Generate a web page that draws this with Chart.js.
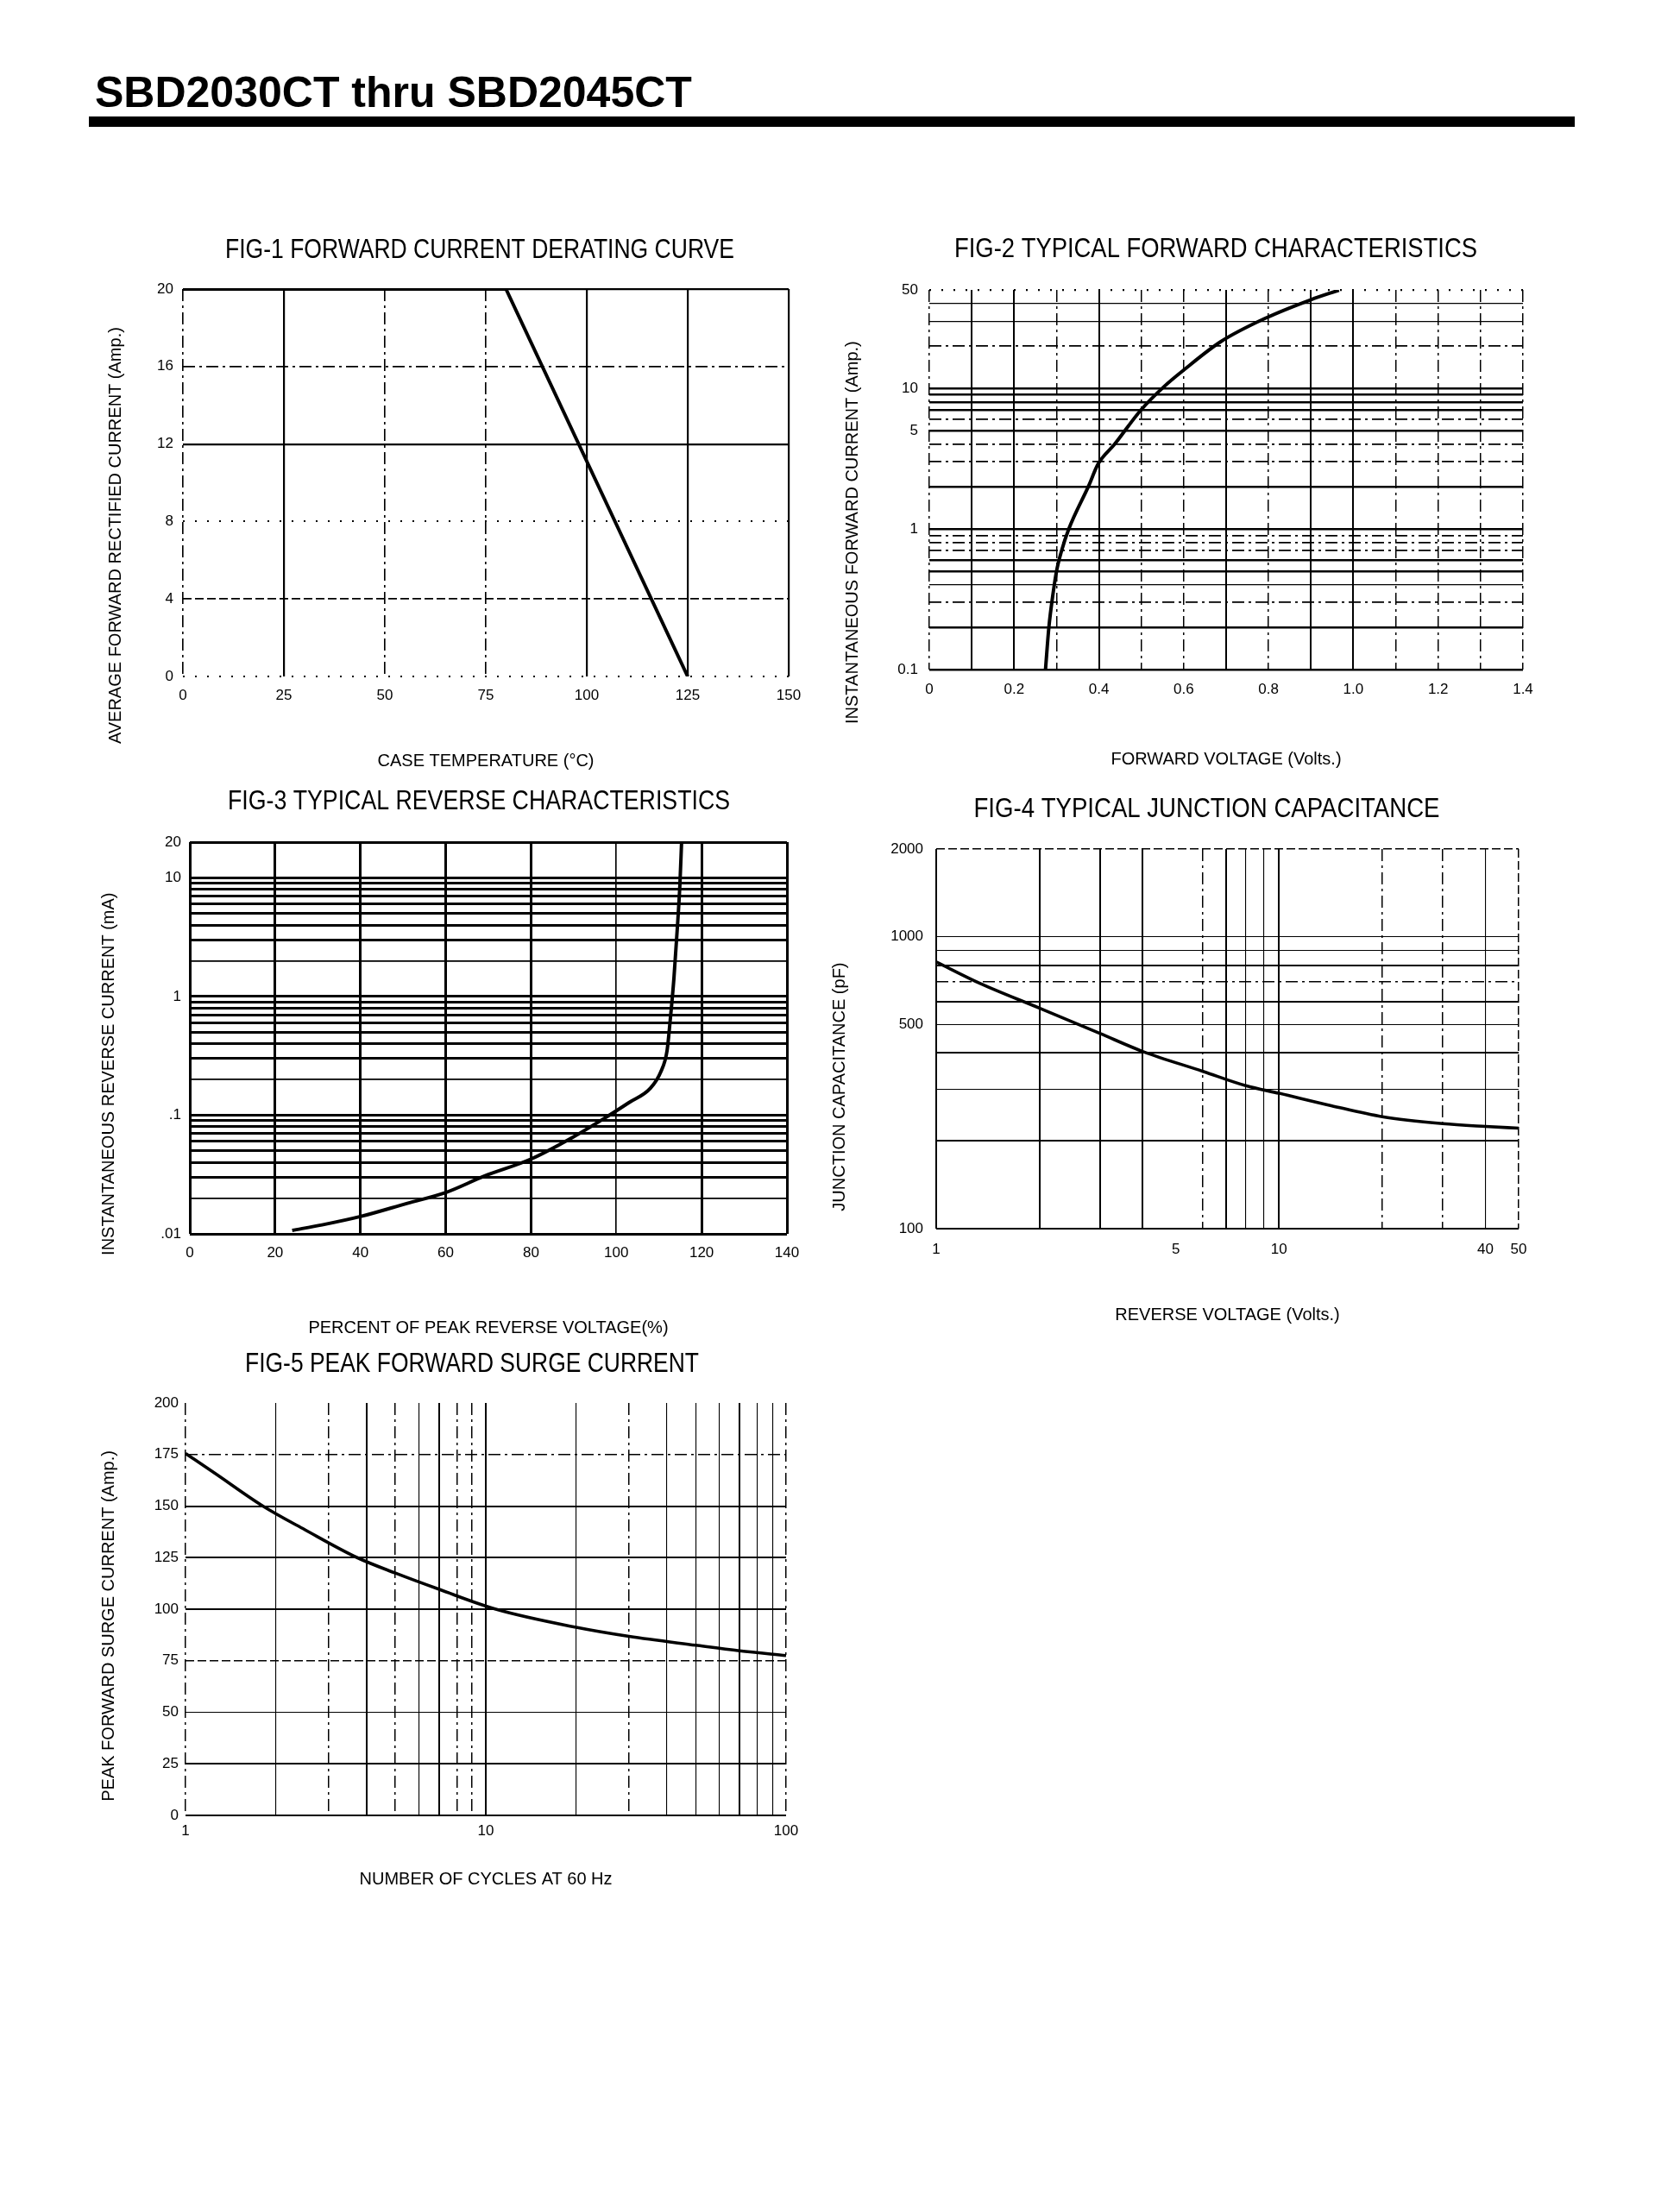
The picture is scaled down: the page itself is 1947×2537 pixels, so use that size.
<!DOCTYPE html>
<html lang="en">
<head>
<meta charset="UTF-8">
<title>SBD2030CT thru SBD2045CT</title>
<script src="https://cdn.jsdelivr.net/npm/chart.js"></script>
<style>
  body { margin: 0; width: 1947px; height: 2537px; background: #fff; position: relative; font-family: 'Liberation Sans', Arial, sans-serif; }
  #head { position: absolute; left: 110px; top: 82px; font-size: 50px; font-weight: bold; line-height: 50px; color: #000; white-space: nowrap; }
  #rule { position: absolute; left: 103px; top: 135px; width: 1722px; height: 12px; background: #000; }
  canvas { position: absolute; }
</style>
</head>
<body>
<div id="head">SBD2030CT thru SBD2045CT</div>
<div id="rule"></div>
<canvas id="fig1"></canvas>
<canvas id="fig2"></canvas>
<canvas id="fig3"></canvas>
<canvas id="fig4"></canvas>
<canvas id="fig5"></canvas>
<script>
// ---- FIG-1 derating
const fig1Temp    = [0, 80, 125];
const fig1Current = [20, 20, 0];
const fig1XGrid   = [0, 25, 50, 75, 100, 125, 150];
const fig1XLabels = ['0', '25', '50', '75', '100', '125', '150'];
const fig1YGrid   = [0, 4, 8, 12, 16, 20];
const fig1YLabels = ['0', '4', '8', '12', '16', '20'];

// ---- FIG-2 forward characteristics
const fig2Voltage = [0.274, 0.282, 0.292, 0.300, 0.312, 0.329, 0.376, 0.398, 0.437, 0.499, 0.554, 0.599, 0.688, 0.794, 0.899, 0.966];
const fig2Current = [0.1, 0.2, 0.35, 0.5, 0.7, 1.0, 2.03, 2.89, 4.0, 7.0, 10.3, 13.4, 21.5, 31.6, 42.5, 49.8];
const fig2XGrid   = [0, 0.1, 0.2, 0.3, 0.4, 0.5, 0.6, 0.7, 0.8, 0.9, 1.0, 1.1, 1.2, 1.3, 1.4];
const fig2XLabels = ['0', '', '0.2', '', '0.4', '', '0.6', '', '0.8', '', '1.0', '', '1.2', '', '1.4'];
const fig2YGrid   = [0.1, 0.2, 0.3, 0.4, 0.5, 0.6, 0.7, 0.8, 0.9, 1, 2, 3, 4, 5, 6, 7, 8, 9, 10, 20, 30, 40, 50];
const fig2YLabels = ['0.1', '', '', '', '', '', '', '', '', '1', '', '', '', '5', '', '', '', '', '10', '', '', '', '50'];

// ---- FIG-3 reverse characteristics
const fig3Percent = [24, 31, 40, 51, 60, 69, 80, 90, 97.7, 103, 108, 110.4, 111.9, 112.6, 113.5, 114.3, 114.9, 115.3];
const fig3Current = [0.0107, 0.0119, 0.014, 0.0181, 0.0223, 0.0306, 0.0427, 0.0658, 0.0966, 0.128, 0.169, 0.231, 0.351, 0.613, 1.42, 3.77, 8.7, 20];
const fig3XGrid   = [0, 20, 40, 60, 80, 100, 120, 140];
const fig3XLabels = ['0', '20', '40', '60', '80', '100', '120', '140'];
const fig3YGrid   = [0.01, 0.02, 0.03, 0.04, 0.05, 0.06, 0.07, 0.08, 0.09, 0.1, 0.2, 0.3, 0.4, 0.5, 0.6, 0.7, 0.8, 0.9, 1, 2, 3, 4, 5, 6, 7, 8, 9, 10, 20];
const fig3YLabels = ['.01', '', '', '', '', '', '', '', '', '.1', '', '', '', '', '', '', '', '', '1', '', '', '', '', '', '', '', '', '10', '20'];

// ---- FIG-4 junction capacitance
const fig4Voltage = [1, 1.345, 2, 3, 4, 6, 8, 10, 14.2, 20, 30, 40, 50];
const fig4Cap     = [821, 692, 570, 467, 405, 346, 309, 291, 264, 242, 229, 224, 221];
const fig4XGrid   = [1, 2, 3, 4, 5, 6, 7, 8, 9, 10, 20, 30, 40, 50];
const fig4XLabels = ['1', '', '', '', '5', '', '', '', '', '10', '', '', '40', '50'];
const fig4YGrid   = [100, 200, 300, 400, 500, 600, 700, 800, 900, 1000, 2000];
const fig4YLabels = ['100', '', '', '', '500', '', '', '', '', '1000', '2000'];

// ---- FIG-5 surge current
const fig5Cycles  = [1, 1.25, 1.81, 2.5, 3.73, 5, 7, 10.8, 20, 30, 50, 70, 100];
const fig5Current = [175.5, 166, 150, 138.5, 125, 117.5, 109.6, 100, 91.2, 86.8, 82.5, 79.8, 77.5];
const fig5XGrid   = [1, 2, 3, 4, 5, 6, 7, 8, 9, 10, 20, 30, 40, 50, 60, 70, 80, 90, 100];
const fig5XLabels = ['1', '', '', '', '', '', '', '', '', '10', '', '', '', '', '', '', '', '', '100'];
const fig5YGrid   = [0, 25, 50, 75, 100, 125, 150, 175, 200];
const fig5YLabels = ['0', '25', '50', '75', '100', '125', '150', '175', '200'];

// grid line look, one code per grid line (s solid, t thin, d dashed, dd dash-dot, o dotted, n none)
const fig1XStyle = ['dd', 's', 'dd', 'dd', 's', 's', 's'];
const fig1YStyle = ['o', 'd', 'o', 's', 'dd', 's'];
const fig2XStyle = ['dd', 's', 's', 'dd', 's', 'dd', 'dd', 's', 'dd', 's', 's', 'dd', 'dd', 'dd', 'dd'];
const fig2YStyle = ['s', 's', 'dd', 't', 's', 's', 'dd', 'dd', 'dd', 's', 's', 'dd', 'dd', 's', 'dd', 's', 's', 's', 's', 'dd', 't', 't', 'o'];
const fig3XStyle = ['s', 's', 's', 's', 's', 't', 's', 's'];
const fig3YStyle = ['s', 't', 's', 's', 's', 's', 's', 's', 's', 's', 't', 's', 's', 's', 's', 's', 's', 's', 's', 't', 's', 's', 's', 's', 's', 's', 's', 's', 's'];
const fig4XStyle = ['s', 's', 's', 's', 'n', 'dd', 's', 't', 't', 's', 'dd', 'dd', 't', 'd'];
const fig4YStyle = ['s', 's', 't', 's', 't', 's', 'dd', 's', 't', 't', 'd'];
const fig5XStyle = ['dd', 't', 'dd', 's', 'dd', 't', 's', 'dd', 'dd', 's', 't', 'dd', 't', 't', 't', 's', 't', 't', 'dd'];
const fig5YStyle = ['s', 's', 't', 'd', 's', 's', 's', 'dd', 'n'];

const FONT = "'Liberation Sans', Arial, sans-serif";
const PAD = { left: 130, right: 40, top: 80, bottom: 130 };

const LINE_STYLES = {
  s:  { dash: [], width: 1 },
  t:  { dash: [], width: 0.55 },
  d:  { dash: [10, 4], width: 0.75 },
  dd: { dash: [14, 5, 3, 5], width: 0.75 },
  o:  { dash: [2, 12], width: 0.9 },
  n:  { dash: [], width: 0 }
};

// the scanned sheet uses a narrow face: squeeze the chart title into its measured width
const narrowTitle = {
  id: 'narrowTitle',
  afterLayout(chart, args, opts) {
    const t = chart.titleBlock;
    if (!t || !opts.width) return;
    const c = (t.left + t.right) / 2 + (opts.shift || 0);
    t.left = c - opts.width / 2;
    t.right = c + opts.width / 2;
  }
};

function axis(o) {
  const st = c => LINE_STYLES[o.styles[c.index]] || LINE_STYLES.s;
  return {
    type: o.type,
    position: o.position,
    min: o.min,
    max: o.max,
    afterBuildTicks: s => { s.ticks = o.grid.map(v => ({ value: v })); },
    afterFit: s => {
      if (o.position === 'bottom') s.height = PAD.bottom;
      else s.width = PAD.left;
    },
    ticks: {
      autoSkip: false, maxRotation: 0, minRotation: 0,
      padding: o.tickPad, color: '#000',
      font: { family: FONT, size: 17 },
      callback: (v, i) => o.labels[i]
    },
    grid: {
      drawTicks: false,
      color: c => (c.tick && o.styles[c.index] === 'n') ? 'rgba(0,0,0,0)' : '#000',
      lineWidth: c => c.tick ? st(c).width * o.lw : 1
    },
    border: { display: false, dash: c => c.tick ? st(c).dash : [] },
    title: {
      display: true, text: o.title + '\u00a0'.repeat(o.titleTail || 0), color: '#000',
      font: { family: FONT, size: 20, lineHeight: 1 },
      padding: o.position === 'bottom' ? { top: 0, bottom: o.titlePad } : { top: o.titlePad, bottom: 0 }
    }
  };
}

function makeChart(id, box, cfg) {
  const cv = document.getElementById(id);
  cv.width = box.right - box.left + PAD.left + PAD.right;
  cv.height = box.bottom - box.top + PAD.top + PAD.bottom;
  cv.style.left = (box.left - PAD.left) + 'px';
  cv.style.top = (box.top - PAD.top) + 'px';

  const tp = box.titleY - (box.top - PAD.top) - 16;
  cfg.xAxis.position = 'bottom';
  cfg.yAxis.position = 'left';
  cfg.xAxis.titlePad = box.bottom + PAD.bottom - 10 - box.xTitleY;
  cfg.yAxis.titlePad = box.yTitleX - (box.left - PAD.left) - 10;

  new Chart(cv, {
    type: 'line',
    data: {
      datasets: [{
        data: cfg.x.map((v, i) => ({ x: v, y: cfg.y[i] })),
        borderColor: '#000',
        borderWidth: cfg.lw,
        pointRadius: 0,
        fill: false,
        tension: cfg.smooth ? 0.4 : 0,
        cubicInterpolationMode: cfg.smooth ? 'monotone' : 'default'
      }]
    },
    options: {
      responsive: false,
      animation: false,
      devicePixelRatio: 1,
      layout: { padding: { left: 0, right: PAD.right, top: 0, bottom: 0 } },
      plugins: {
        legend: { display: false },
        tooltip: { enabled: false },
        title: {
          display: true, text: cfg.title, fullSize: false, color: '#000',
          font: { family: FONT, size: 32, weight: 'normal', lineHeight: 1 },
          padding: { top: tp, bottom: PAD.top - 32 - tp }
        },
        narrowTitle: { width: box.titleW, shift: box.titleShift }
      },
      scales: { x: axis(cfg.xAxis), y: axis(cfg.yAxis) }
    },
    plugins: [narrowTitle]
  });
}

makeChart('fig1',
  { left: 212, top: 335, right: 914, bottom: 784, titleY: 290, titleW: 590, titleShift: -7, xTitleY: 882, yTitleX: 134 },
  {
    title: 'FIG-1 FORWARD CURRENT DERATING CURVE',
    x: fig1Temp, y: fig1Current, lw: 4, smooth: false,
    xAxis: { type: 'linear', min: 0, max: 150, grid: fig1XGrid, labels: fig1XLabels, styles: fig1XStyle, lw: 2.2, tickPad: 12,
             title: 'CASE TEMPERATURE (°C)' },
    yAxis: { type: 'linear', min: 0, max: 20, grid: fig1YGrid, labels: fig1YLabels, styles: fig1YStyle, lw: 2.2, tickPad: 11,
             title: 'AVERAGE FORWARD RECTIFIED CURRENT (Amp.)', titleTail: 22 }
  });

makeChart('fig2',
  { left: 1077, top: 336, right: 1765, bottom: 776, titleY: 289, titleW: 606, titleShift: -12, xTitleY: 880, yTitleX: 988 },
  {
    title: 'FIG-2 TYPICAL FORWARD CHARACTERISTICS',
    x: fig2Voltage, y: fig2Current, lw: 4, smooth: true,
    xAxis: { type: 'linear', min: 0, max: 1.4, grid: fig2XGrid, labels: fig2XLabels, styles: fig2XStyle, lw: 2, tickPad: 13,
             title: 'FORWARD VOLTAGE (Volts.)' },
    yAxis: { type: 'logarithmic', min: 0.1, max: 50, grid: fig2YGrid, labels: fig2YLabels, styles: fig2YStyle, lw: 2.4, tickPad: 13,
             title: 'INSTANTANEOUS FORWARD CURRENT (Amp.)', titleTail: 22 }
  });

makeChart('fig3',
  { left: 220, top: 976, right: 912, bottom: 1430, titleY: 929, titleW: 582, titleShift: -11, xTitleY: 1539, yTitleX: 126 },
  {
    title: 'FIG-3 TYPICAL REVERSE CHARACTERISTICS',
    x: fig3Percent, y: fig3Current, lw: 4, smooth: true,
    xAxis: { type: 'linear', min: 0, max: 140, grid: fig3XGrid, labels: fig3XLabels, styles: fig3XStyle, lw: 3, tickPad: 12,
             title: 'PERCENT OF PEAK REVERSE VOLTAGE(%)' },
    yAxis: { type: 'logarithmic', min: 0.01, max: 20, grid: fig3YGrid, labels: fig3YLabels, styles: fig3YStyle, lw: 3, tickPad: 10,
             title: 'INSTANTANEOUS REVERSE CURRENT (mA)', titleTail: 15 }
  });

makeChart('fig4',
  { left: 1085, top: 984, right: 1760, bottom: 1424, titleY: 938, titleW: 540, titleShift: -24, xTitleY: 1524, yTitleX: 973 },
  {
    title: 'FIG-4 TYPICAL JUNCTION CAPACITANCE',
    x: fig4Voltage, y: fig4Cap, lw: 3.6, smooth: true,
    xAxis: { type: 'logarithmic', min: 1, max: 50, grid: fig4XGrid, labels: fig4XLabels, styles: fig4XStyle, lw: 2, tickPad: 14,
             title: 'REVERSE VOLTAGE (Volts.)' },
    yAxis: { type: 'logarithmic', min: 100, max: 2000, grid: fig4YGrid, labels: fig4YLabels, styles: fig4YStyle, lw: 2, tickPad: 15,
             title: 'JUNCTION CAPACITANCE (pF)', titleTail: 20 }
  });

makeChart('fig5',
  { left: 215, top: 1626, right: 911, bottom: 2104, titleY: 1581, titleW: 526, titleShift: -16, xTitleY: 2178, yTitleX: 126 },
  {
    title: 'FIG-5 PEAK FORWARD SURGE CURRENT',
    x: fig5Cycles, y: fig5Current, lw: 3.6, smooth: true,
    xAxis: { type: 'logarithmic', min: 1, max: 100, grid: fig5XGrid, labels: fig5XLabels, styles: fig5XStyle, lw: 2, tickPad: 8,
             title: 'NUMBER OF CYCLES AT 60 Hz' },
    yAxis: { type: 'linear', min: 0, max: 200, grid: fig5YGrid, labels: fig5YLabels, styles: fig5YStyle, lw: 2, tickPad: 8,
             title: 'PEAK FORWARD SURGE CURRENT (Amp.)', titleTail: 7 }
  });
</script>
</body>
</html>
